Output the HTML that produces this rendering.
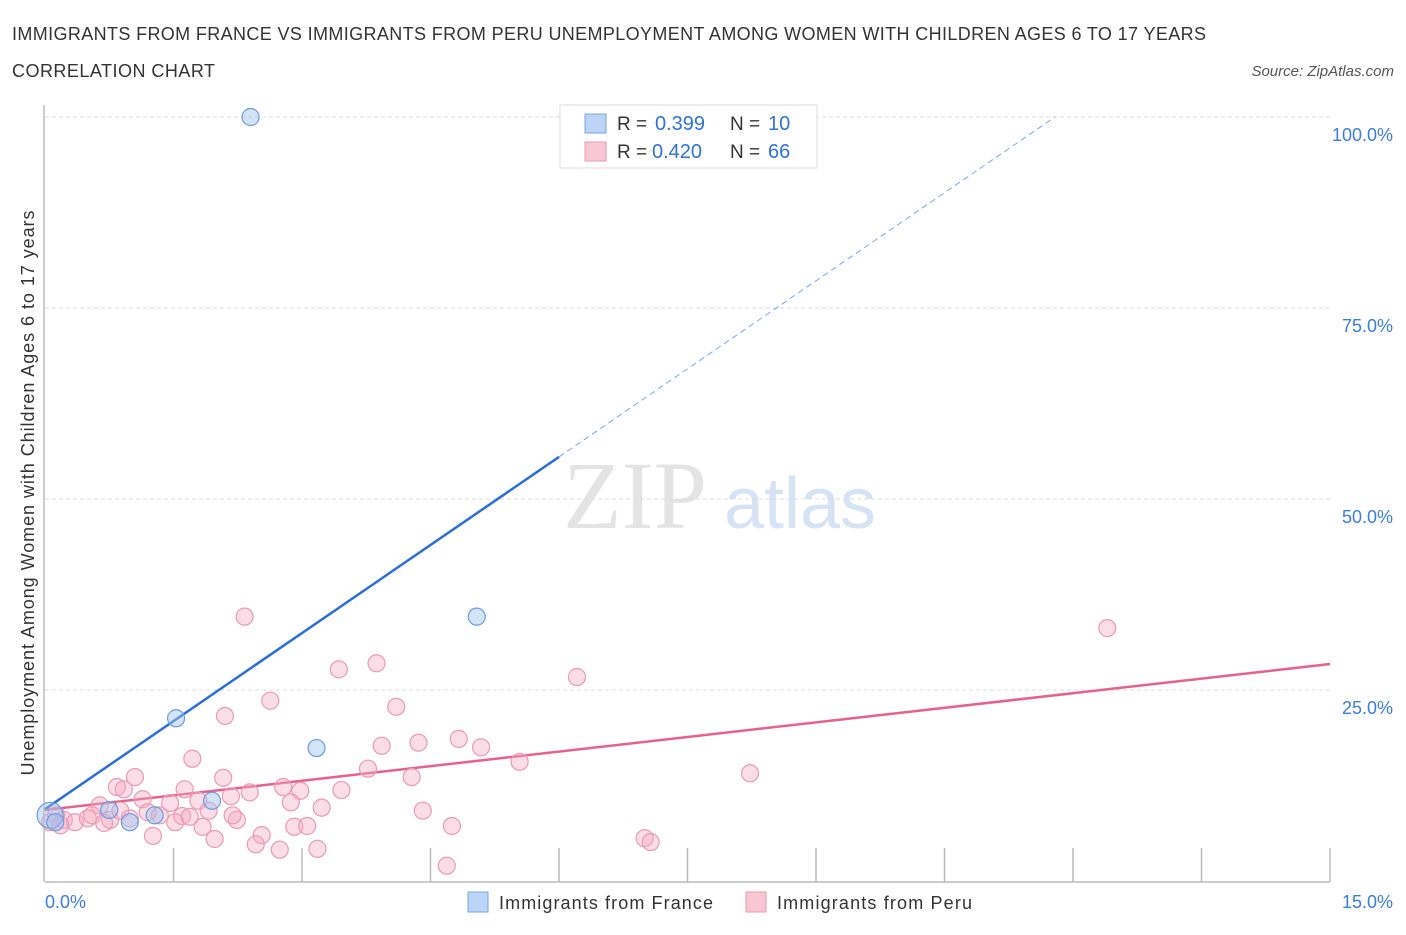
<!DOCTYPE html>
<html><head><meta charset="utf-8"><style>
body{margin:0;background:#fff;font-family:"Liberation Sans",sans-serif;}
</style></head><body>
<svg width="1406" height="930" xmlns="http://www.w3.org/2000/svg" font-family="Liberation Sans, sans-serif">
<text x="12" y="40" font-size="18" fill="#333" textLength="1194" lengthAdjust="spacing">IMMIGRANTS FROM FRANCE VS IMMIGRANTS FROM PERU UNEMPLOYMENT AMONG WOMEN WITH CHILDREN AGES 6 TO 17 YEARS</text>
<text x="12" y="77" font-size="18" fill="#333" textLength="203" lengthAdjust="spacing">CORRELATION CHART</text>
<text x="1394" y="76" font-size="15" fill="#555" font-style="italic" text-anchor="end">Source: ZipAtlas.com</text>
<text x="635" y="528" font-size="96" fill="#e4e4e4" font-family="Liberation Serif, serif" text-anchor="middle">ZIP</text>
<text x="800" y="528" font-size="72" fill="#d5e3f5" text-anchor="middle">atlas</text>
<g id="grid"></g><g id="axes"></g><g id="lines"></g><g id="pts"></g>
<text transform="translate(34,493) rotate(-90)" font-size="18" fill="#333" text-anchor="middle" textLength="565" lengthAdjust="spacing">Unemployment Among Women with Children Ages 6 to 17 years</text>
<g>
<rect x="560" y="105" width="257" height="63" fill="#fff" stroke="#ddd"/>
<rect x="585" y="114" width="21" height="19" fill="#bcd4f5" stroke="#7aa6e6"/>
<rect x="585" y="142" width="21" height="19" fill="#f9c6d4" stroke="#eb9ab2"/>
<text x="617" y="130" font-size="19" fill="#333">R =</text>
<text x="655" y="130" font-size="20" fill="#2f72d6">0.399</text>
<text x="730" y="130" font-size="19" fill="#333">N =</text>
<text x="768" y="130" font-size="20" fill="#2f72d6">10</text>
<text x="617" y="158" font-size="19" fill="#333">R =</text>
<text x="652" y="158" font-size="20" fill="#2f72d6">0.420</text>
<text x="730" y="158" font-size="19" fill="#333">N =</text>
<text x="768" y="158" font-size="20" fill="#2f72d6">66</text>
</g>
<g>
<rect x="468" y="892" width="20" height="20" fill="#bcd4f5" stroke="#7aa6e6"/>
<text x="499" y="909" font-size="18" fill="#333" textLength="214" lengthAdjust="spacing">Immigrants from France</text>
<rect x="746" y="892" width="20" height="20" fill="#f9c6d4" stroke="#eb9ab2"/>
<text x="777" y="909" font-size="18" fill="#333" textLength="195" lengthAdjust="spacing">Immigrants from Peru</text>
</g>
</svg>
<script>
const xTicks=[0,1.5,3,4.5,6,7.5,9,10.5,12,13.5,15];
const yTicks=[25,50,75,100];
const yTickLabels=["25.0%","50.0%","75.0%","100.0%"];
const franceX=[2.4,5.04,1.53,3.17,1.95,0.75,1.28,0.99,0.06,0.12];
const franceY=[100,34.6,21.3,17.4,10.5,9.3,8.6,7.7,8.6,7.7];
const peruX=[2.33,3.43,3.87,6.21,12.4,2.63,2.1,4.1,1.72,3.93,4.36,4.83,5.09,5.54,3.77,4.28,8.23,1.05,0.84,0.92,2.08,1.63,1.79,2.39,2.78,2.98,3.46,1.14,1.46,2.17,3.23,2.87,1.91,0.64,0.13,0.22,0.35,0.5,0.55,0.76,0.69,1.34,1.6,1.52,2.24,2.53,2.91,3.06,4.41,4.75,1.84,1.98,2.46,2.74,3.18,1.26,4.69,7.0,7.07,0.06,0.18,0.88,0.99,1.2,1.69,2.19];
const peruY=[34.6,27.7,28.5,26.7,33.1,23.6,21.6,22.8,16.0,17.7,18.1,18.6,17.5,15.6,14.7,13.6,14.1,13.6,12.3,12.0,13.5,12.0,10.5,11.6,12.3,11.8,11.9,10.7,10.2,11.1,9.6,10.3,9.2,9.9,8.6,8.0,7.7,8.2,8.6,8.0,7.6,8.6,8.5,7.7,8.0,6.0,7.1,7.2,9.2,7.2,7.1,5.5,4.8,4.1,4.2,5.9,2.0,5.6,5.1,7.7,7.3,9.2,8.2,9.0,8.4,8.6];
const franceFit=[9.4,100,11.79];
const peruFit=[9.3,28.4];
const X=v=>45+v/15*1285, Y=v=>881-v/100*764;
const NS="http://www.w3.org/2000/svg";
function mk(p,t,a){const e=document.createElementNS(NS,t);for(const k in a)e.setAttribute(k,a[k]);document.getElementById(p).appendChild(e);return e;}
yTicks.forEach((t,i)=>{
 const l=mk('grid','line',{x1:45,x2:1330,y1:Y(t),y2:Y(t),stroke:'#ddd','stroke-dasharray':'4,3'});
 
 
 const tx=mk('grid','text',{x:1393,y:Y(t)+24,'font-size':18,fill:'#3b7ddd','text-anchor':'end'});tx.textContent=yTickLabels[i];
 
 
});
const ax=mk('axes','line',{x1:45,x2:1330,y1:882,y2:882,stroke:'#bbb','stroke-width':1.5});


mk('axes','line',{x1:44,x2:44,y1:105,y2:882,stroke:'#bbb','stroke-width':1.5});
xTicks.forEach((t,i)=>{if(i>0){const l=mk('axes','line',{x1:X(t),x2:X(t),y1:848,y2:882,stroke:'#bbb','stroke-width':1.5});
 
 }});
let a=mk('axes','text',{x:45,y:908,'font-size':18,fill:'#3b7ddd'});a.textContent='0.0%';


a=mk('axes','text',{x:1393,y:908,'font-size':18,fill:'#3b7ddd','text-anchor':'end'});a.textContent='15.0%';


const fy=x=>franceFit[0]+(franceFit[1]-franceFit[0])*x/franceFit[2];
let l=mk('lines','line',{x1:X(0),y1:Y(fy(0)),x2:X(6),y2:Y(fy(6)),stroke:'#2a6fd6','stroke-width':2.5});


l=mk('lines','line',{x1:X(6),y1:Y(fy(6)),x2:X(franceFit[2]),y2:Y(100),stroke:'#7aa6e6','stroke-width':1,'stroke-dasharray':'6,4'});


l=mk('lines','line',{x1:X(0),y1:Y(peruFit[0]),x2:X(15),y2:Y(peruFit[1]),stroke:'#e8608c','stroke-width':2.5});


peruX.forEach((x,i)=>{const c=mk('pts','circle',{cx:X(x),cy:Y(peruY[i]),r:8.5,fill:'rgba(246,170,195,0.4)',stroke:'#eb9ab2','stroke-width':1.2});
 
 });
franceX.forEach((x,i)=>{const c=mk('pts','circle',{cx:X(x),cy:Y(franceY[i]),r:i==8?13:8.5,fill:'rgba(160,195,240,0.45)',stroke:'#6c9be0','stroke-width':1.2});
 
 });
</script>
</body></html>
